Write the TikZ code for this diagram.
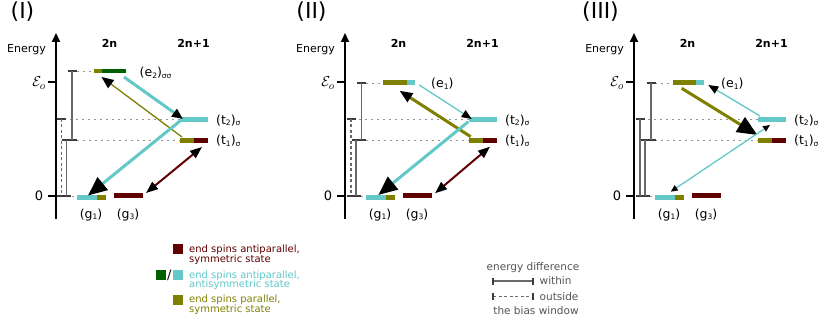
\documentclass[tikz,border=0pt]{standalone}
\usepackage{fontspec}
\setmainfont{DejaVu Sans}
\usetikzlibrary{arrows.meta,calc}
\definecolor{cy}{RGB}{98,200,200}
\definecolor{ol}{RGB}{128,128,0}
\definecolor{mr}{RGB}{96,0,0}
\definecolor{gr}{RGB}{0,96,0}
\definecolor{bgray}{RGB}{105,105,105}
\definecolor{tgray}{RGB}{60,60,60}
\definecolor{dgray}{RGB}{150,150,150}
\definecolor{lgray}{RGB}{85,85,85}
\newcommand\lsub[1]{\raisebox{-1.6pt}{\fontsize{7.5}{8}\selectfont #1}}
\newcommand\biasbar[4][]{%
  \draw[bbtick] (#2-4.5,#3) -- (#2+4.5,#3) (#2-4.5,#4) -- (#2+4.5,#4);
  \draw[bbline,#1] (#2,#3) -- (#2,#4);}
\newcommand\panelcommon[1]{%
  \coordinate (axb#1) at (56,219);
  \coordinate (axt#1) at (56,33);
  \draw[line width=1.8pt,-{Triangle[length=9pt,width=8pt]}] (axb#1) -- (axt#1);
  \draw[line width=1.5pt] (48,82) -- (56,82) (48,196) -- (56,196);
  \node[lbl11,anchor=base] (en#1) at (26.5,52.3) {Energy};
  \node[bold11,anchor=base] (ctwo#1) at (109.5,47.3) {2n};
  \node[bold11,anchor=base] (ctwoone#1) at (193.5,47.3) {2n+1};
  \node[anchor=base east,font=\fontsize{15}{17}\selectfont,inner sep=0pt] (eps#1) at (46,87) {$\mathcal{E}_o$};
  \node[font=\fontsize{13}{15}\selectfont,inner sep=0pt] (zero#1) at (39,196) {0};
  \draw[dotl] (57.5,119) -- (180,119);
  \draw[dotl] (76.5,140) -- (180,140);
  \draw[dotl] (71.5,196) -- (77,196);
  \node[lvl,fill=cy,minimum width=28pt] (t2#1) at (194,119.2) {};
  \node[lvl,fill=ol,minimum width=14pt] (t1a#1) at (187,140.2) {};
  \node[lvl,fill=mr,minimum width=14pt] (t1b#1) at (201,140.2) {};
  \node[lvl,fill=cy,minimum width=20pt] (g1a#1) at (87,197.8) {};
  \node[lvl,fill=ol,minimum width=9pt] (g1b#1) at (101.5,197.8) {};
  \node[lvl,fill=mr,minimum width=29pt] (g3#1) at (128.5,196) {};
  \node[lvlbl,anchor=base west] (t2l#1) at (216,124.4) {(t\lsub{2})\lsub{σ}};
  \node[lvlbl,anchor=base west] (t1l#1) at (216,145) {(t\lsub{1})\lsub{σ}};
  \node[lvlbl,anchor=base] (g1l#1) at (91,218.3) {(g\lsub{1})};
  \node[lvlbl,anchor=base] (g3l#1) at (128,218.3) {(g\lsub{3})};
}
\begin{document}
\begin{tikzpicture}[x=1pt,y=-1pt,
  lvl/.style={rectangle,inner sep=0pt,minimum height=5pt,draw=none},
  dotl/.style={dgray,line width=0.9pt,dash pattern=on 2pt off 4pt},
  bbtick/.style={tgray,line width=1.1pt},
  bbline/.style={bgray,line width=1.2pt},
  dsh/.style={dash pattern=on 3pt off 2.5pt},
  lbl11/.style={font=\fontsize{11}{13}\selectfont,inner sep=0pt},
  bold11/.style={font=\fontsize{11}{13}\selectfont\bfseries,inner sep=0pt},
  lvlbl/.style={font=\fontsize{12.5}{14}\selectfont,inner sep=0pt},
  plab/.style={font=\fontsize{22}{26}\selectfont,inner sep=0pt,anchor=base},
  sq/.style={rectangle,inner sep=0pt,minimum size=10pt,draw=none},
  leg/.style={font=\fontsize{10}{10}\selectfont,inner sep=0pt,anchor=base west},
  bl/.style={font=\fontsize{10.5}{12}\selectfont,inner sep=0pt,text=lgray},
  thk/.style={line width=3pt},
  thn/.style={line width=1.3pt},
]
\fill[white] (0,0) rectangle (822,315);
\useasboundingbox (0,0) rectangle (822,315);

% ---------------- Panel I ----------------
\begin{scope}
  \node[plab] (pI) at (22.5,18.8) {(I)};
  \panelcommon{I}
  \draw[dotl] (76.5,71) -- (94,71);
  \biasbar{72}{71}{140}
  \biasbar{66.7}{140}{196}
  \biasbar[dsh]{61.7}{119}{196}
  \node[lvl,fill=ol,minimum width=8pt,minimum height=4.5pt] (e2aI) at (98,71.2) {};
  \node[lvl,fill=gr,minimum width=24pt,minimum height=4.5pt] (e2bI) at (114,71.2) {};
  \node[lvlbl,anchor=base west] (e2lI) at (139.5,76.7) {(e\lsub{2})\lsub{σσ}};
  \coordinate (a1s) at (124,77);   \coordinate (a1e) at (183,119);
  \coordinate (a2s) at (182,137);  \coordinate (a2e) at (101.5,77);
  \coordinate (a3s) at (180,121);  \coordinate (a3e) at (88,195.5);
  \coordinate (a4s) at (202,147);  \coordinate (a4e) at (146,193);
  \draw[cy,thk,-{Triangle[length=11pt,width=9pt,color=black]}] (a1s) -- (a1e);
  \draw[ol,thn,-{Triangle[length=12pt,width=10pt,color=black]}] (a2s) -- (a2e);
  \draw[cy,thk,-{Triangle[length=19pt,width=16pt,color=black]}] (a3s) -- (a3e);
  \draw[mr,line width=2pt,{Triangle[length=12pt,width=9pt,color=black]}-{Triangle[length=12pt,width=9pt,color=black]}] (a4s) -- (a4e);
\end{scope}

% ---------------- Panel II ----------------
\begin{scope}[xshift=289pt]
  \node[plab] (pII) at (22.5,18.8) {(II)};
  \panelcommon{II}
  \draw[dotl] (76.5,83) -- (94,83);
  \biasbar{72.5}{83}{140}
  \biasbar{67}{140}{196}
  \biasbar[dsh]{62}{119}{196}
  \node[lvl,fill=ol,minimum width=24pt] (e1aII) at (106,82.7) {};
  \node[lvl,fill=cy,minimum width=8pt] (e1bII) at (122,82.7) {};
  \node[lvlbl,anchor=base west] (e1lII) at (142,87.8) {(e\lsub{1})};
  \coordinate (b1s) at (130.3,85);   \coordinate (b1e) at (182.7,119);
  \coordinate (b2s) at (181.7,136.7); \coordinate (b2e) at (110.5,90.7);
  \coordinate (b3s) at (179.3,121.7); \coordinate (b3e) at (89.3,195);
  \coordinate (b4s) at (201,146.7);  \coordinate (b4e) at (146,193.3);
  \draw[cy,thn,-{Triangle[length=10pt,width=8pt,color=black]}] (b1s) -- (b1e);
  \draw[ol,thk,-{Triangle[length=13pt,width=10pt,color=black]}] (b2s) -- (b2e);
  \draw[cy,thk,-{Triangle[length=19pt,width=16pt,color=black]}] (b3s) -- (b3e);
  \draw[mr,line width=2pt,{Triangle[length=12pt,width=9pt,color=black]}-{Triangle[length=12pt,width=9pt,color=black]}] (b4s) -- (b4e);
\end{scope}

% ---------------- Panel III ----------------
\begin{scope}[xshift=578pt]
  \node[plab] (pIII) at (22.5,18.8) {(III)};
  \panelcommon{III}
  \draw[dotl] (77,83) -- (95,83);
  \biasbar{73}{83}{140}
  \biasbar{67}{140}{196}
  \biasbar{62}{119}{196}
  \node[lvl,fill=ol,minimum width=23pt] (e1aIII) at (106.5,82.7) {};
  \node[lvl,fill=cy,minimum width=8pt] (e1bIII) at (122,82.7) {};
  \node[lvlbl,anchor=base west] (e1lIII) at (143,87.8) {(e\lsub{1})};
  \coordinate (c1s) at (182,116);    \coordinate (c1e) at (130.3,85);
  \coordinate (c2s) at (103.7,88.3); \coordinate (c2e) at (179.3,135);
  \coordinate (c3s) at (92.7,191.7); \coordinate (c3e) at (192,125);
  \draw[cy,thn,-{Triangle[length=10pt,width=8pt,color=black]}] (c1s) -- (c1e);
  \draw[ol,thk,-{Triangle[length=20pt,width=17pt,color=black]}] (c2s) -- (c2e);
  \draw[cy,thn,{Triangle[length=7pt,width=6pt,color=black]}-{Triangle[length=7pt,width=6pt,color=black]}] (c3s) -- (c3e);
\end{scope}

% ---------------- Legend ----------------
\node[sq,fill=mr] (sqm) at (178.3,249) {};
\node[sq,fill=gr] (sqg) at (161,275) {};
\node[font=\fontsize{13}{15}\selectfont,inner sep=0pt] (slash) at (169.3,275.5) {/};
\node[sq,fill=cy] (sqc) at (178.3,275) {};
\node[sq,fill=ol] (sqo) at (178.3,300) {};
\node[leg,text=mr] (lm1) at (189,252.8) {end spins antiparallel,};
\node[leg,text=mr] (lm2) at (189,262.8) {symmetric state};
\node[leg,text=cy] (lc1) at (189,278) {end spins antiparallel,};
\node[leg,text=cy] (lc2) at (189,287.6) {antisymmetric state};
\node[leg,text=ol] (lo1) at (189,302.8) {end spins parallel,};
\node[leg,text=ol] (lo2) at (189,312.8) {symmetric state};

% bias window legend
\node[bl,anchor=base] (edif) at (533,270.5) {energy difference};
\coordinate (w1) at (493,281);  \coordinate (w2) at (533,281);
\coordinate (o1) at (493,296.5); \coordinate (o2) at (533,296.5);
\draw[bbline] (w1) -- (w2);
\draw[bbtick] ($(w1)+(0,-3.5)$) -- ($(w1)+(0,3.5)$) ($(w2)+(0,-3.5)$) -- ($(w2)+(0,3.5)$);
\draw[bbline,dsh] (o1) -- (o2);
\draw[bbtick] ($(o1)+(0,-3.5)$) -- ($(o1)+(0,3.5)$) ($(o2)+(0,-3.5)$) -- ($(o2)+(0,3.5)$);
\node[bl,anchor=base west] (wtxt) at (539.5,284.8) {within};
\node[bl,anchor=base west] (otxt) at (539.5,300.3) {outside};
\node[bl,anchor=base] (bwin) at (536,314) {the bias window};
\end{tikzpicture}
\end{document}
